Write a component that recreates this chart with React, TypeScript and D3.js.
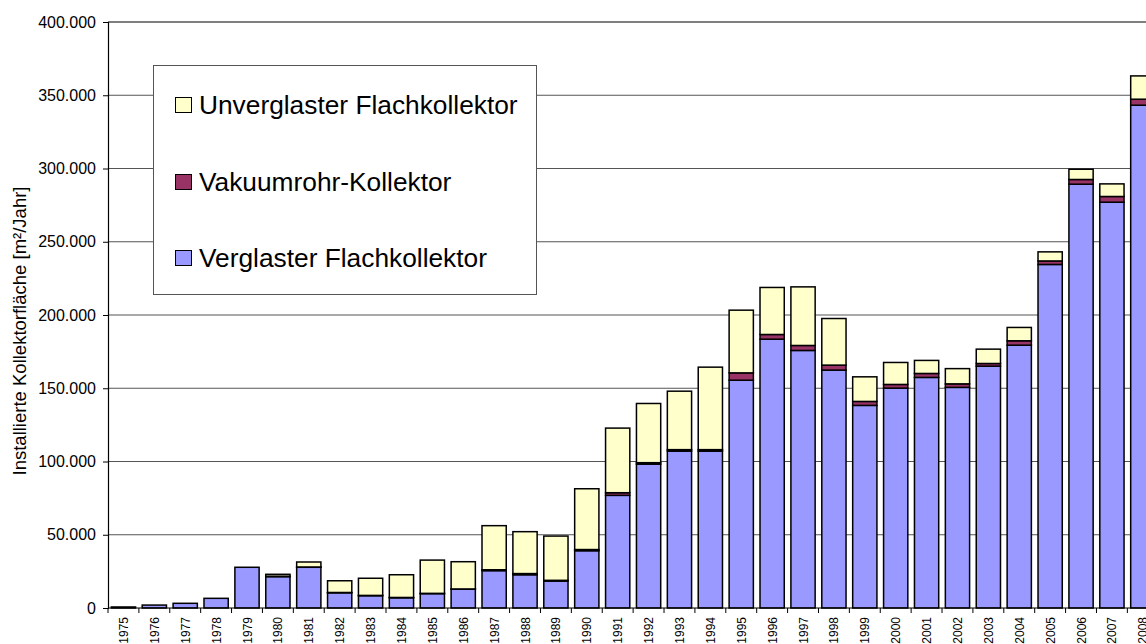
import React, { useEffect, useRef } from 'react';
import * as d3 from 'd3';

// Installierte Kollektorfläche pro Jahr, m²
const years = [
  '1975', '1976', '1977', '1978', '1979', '1980', '1981', '1982', '1983', '1984',
  '1985', '1986', '1987', '1988', '1989', '1990', '1991', '1992', '1993', '1994',
  '1995', '1996', '1997', '1998', '1999', '2000', '2001', '2002', '2003', '2004',
  '2005', '2006', '2007', '2008',
];

const verglast = [
  700, 2000, 3200, 6600, 27800, 21400, 27800, 10400, 8400, 7000,
  9800, 12800, 25500, 22700, 18400, 39100, 76900, 98200, 107100, 107100,
  155500, 183500, 175800, 162400, 138300, 150100, 157400, 150600, 165100, 179400,
  234500, 289300, 277000, 343200,
];

const vakuum = [
  0, 0, 0, 0, 0, 300, 200, 200, 200, 200,
  200, 200, 600, 800, 500, 800, 1800, 1000, 1000, 1000,
  5000, 3200, 3400, 3400, 2700, 2500, 2700, 2400, 1800, 3000,
  2400, 3200, 3900, 4100,
];

const unverglast = [
  0, 0, 0, 0, 0, 1300, 3400, 8000, 11700, 15500,
  22700, 18600, 30100, 28600, 30200, 41500, 44100, 40400, 39900, 56300,
  42800, 32100, 40000, 31800, 16800, 15000, 8900, 10400, 9800, 9100,
  6200, 7000, 8600, 15900,
];

const seriesNames = ['Verglaster Flachkollektor', 'Vakuumrohr-Kollektor', 'Unverglaster Flachkollektor'];
const seriesColors = ['#9999FF', '#993366', '#FFFFCC'];
const yTicks = [0, 50000, 100000, 150000, 200000, 250000, 300000, 350000, 400000];

const FONT = '"Liberation Sans", Arial, sans-serif';

const App = () => {
  const ref = useRef<SVGSVGElement>(null);

  useEffect(() => {
    const svg = d3.select(ref.current);
    svg.selectAll('*').remove();

    const left = 108, top = 22, bottom = 608;
    const step = 30.89;

    const x = d3.scaleBand()
      .domain(years)
      .range([left, left + step * years.length])
      .paddingInner(0.215)
      .paddingOuter(0.1075);

    const y = d3.scaleLinear().domain([0, 400000]).range([bottom, top]);

    // gridlines
    svg.append('g')
      .selectAll('line')
      .data(yTicks.slice(1, -1))
      .join('line')
      .attr('x1', left).attr('x2', 1146)
      .attr('y1', d => y(d)).attr('y2', d => y(d))
      .attr('stroke', '#555').attr('stroke-width', 1);

    // plot border (top)
    svg.append('line')
      .attr('x1', left).attr('x2', 1146)
      .attr('y1', y(400000)).attr('y2', y(400000))
      .attr('stroke', '#000').attr('stroke-width', 1.2);

    // stacked bars
    const rows = years.map((yr, i) => ({ year: yr, v0: verglast[i], v1: vakuum[i], v2: unverglast[i] }));
    const stack = d3.stack<any>().keys(['v0', 'v1', 'v2'])(rows);

    svg.append('g')
      .selectAll('g')
      .data(stack)
      .join('g')
      .attr('fill', (_, i) => seriesColors[i])
      .selectAll('rect')
      .data(d => d.filter(s => s[1] - s[0] > 0))
      .join('rect')
      .attr('x', d => x(d.data.year)!)
      .attr('width', x.bandwidth())
      .attr('y', d => y(d[1]))
      .attr('height', d => y(d[0]) - y(d[1]))
      .attr('stroke', '#000')
      .attr('stroke-width', 1.5);

    // y axis
    const yAxis = svg.append('g')
      .attr('transform', `translate(${left},0)`)
      .call(d3.axisLeft(y).tickValues(yTicks).tickSize(5).tickPadding(7)
        .tickFormat(d => d3.format(',')(d as number).replace(/,/g, '.')));
    yAxis.select('.domain').attr('stroke', '#000').attr('stroke-width', 1.2);
    yAxis.selectAll('line').attr('stroke', '#000');
    yAxis.selectAll('text').attr('font-family', FONT).attr('font-size', 16).attr('fill', '#000');

    // x axis
    const xAxis = svg.append('g')
      .attr('transform', `translate(0,${bottom})`);
    xAxis.append('line')
      .attr('x1', left).attr('x2', 1146)
      .attr('stroke', '#000').attr('stroke-width', 1.2);
    xAxis.selectAll('line.tick')
      .data(years)
      .join('line')
      .attr('class', 'tick')
      .attr('x1', d => x(d)! - x.step() * x.paddingInner() / 2)
      .attr('x2', d => x(d)! - x.step() * x.paddingInner() / 2)
      .attr('y1', 0).attr('y2', 5)
      .attr('stroke', '#000');
    xAxis.selectAll('text')
      .data(years)
      .join('text')
      .attr('transform', d => `translate(${x(d)! + x.bandwidth() / 2 + 4.5},9) rotate(-90)`)
      .attr('text-anchor', 'end')
      .attr('font-family', FONT)
      .attr('font-size', 12)
      .text(d => d);

    // y title
    svg.append('text')
      .attr('transform', 'translate(26,331) rotate(-90)')
      .attr('text-anchor', 'middle')
      .attr('font-family', FONT)
      .attr('font-size', 18.5)
      .text('Installierte Kollektorfläche [m²/Jahr]');

    // legend
    const lg = svg.append('g');
    lg.append('rect')
      .attr('x', 153.5).attr('y', 65.5).attr('width', 383).attr('height', 229)
      .attr('fill', '#fff').attr('stroke', '#555').attr('stroke-width', 1);
    const legendOrder = [2, 1, 0];
    const legendY = [105, 182, 258];
    legendOrder.forEach((s, i) => {
      lg.append('rect')
        .attr('x', 175.5).attr('y', legendY[i] - 7.5).attr('width', 16).attr('height', 15)
        .attr('fill', seriesColors[s]).attr('stroke', '#000').attr('stroke-width', 1);
      lg.append('text')
        .attr('x', 199).attr('y', legendY[i] + 9)
        .attr('font-family', FONT)
        .attr('font-size', 26.3)
        .text(seriesNames[s]);
    });
  }, []);

  return (
    <svg ref={ref} width={1146} height={644}
      style={{ position: 'absolute', left: 0, top: 0, background: '#fff' }} />
  );
};

export default App;
